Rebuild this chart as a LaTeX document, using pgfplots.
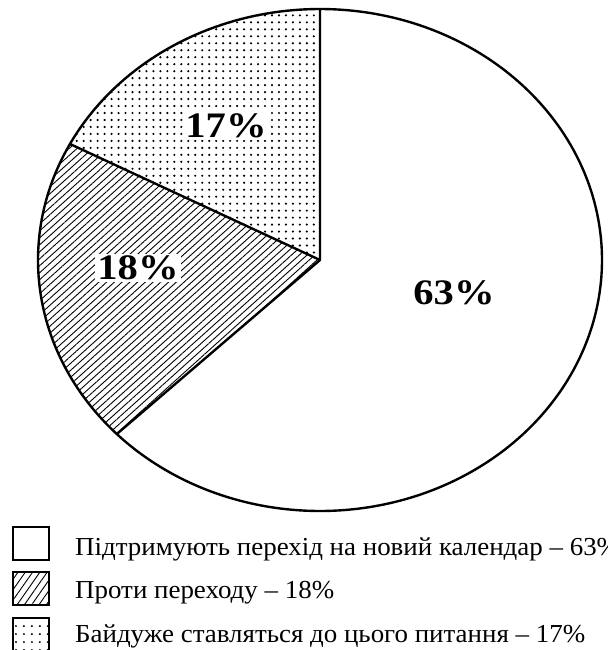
\documentclass[border=0pt]{standalone}
\usepackage{fontspec}
\setmainfont{Liberation Serif}
\usepackage{pgfplots}
\pgfplotsset{compat=1.18}
\usepackage{pgfplotstable}
\usetikzlibrary{patterns.meta}
% slices: share (%), start and end angle of the drawn sector (degrees)
\pgfplotstableread{
name share start end
support 63 -136.1 90
against 18 152.4 223.9
indiff  17 90 152.4
}\slices
\def\cx{320}\def\cy{260}\def\rx{282}\def\ry{251}
\newcommand\lbl[1]{\scalebox{1.13}[1]{\fontsize{36}{40}\selectfont\bfseries #1}}
\newcommand\leg[1]{\scalebox{1.04}[1]{\fontsize{26}{30}\selectfont #1}}
\begin{document}
\begin{tikzpicture}
\useasboundingbox (0,0) rectangle (608bp,650bp);
\clip (0,0) rectangle (608bp,650bp);
\begin{axis}[
  at={(0,0)}, anchor=south west,
  scale only axis, width=608bp, height=650bp,
  xmin=0, xmax=608, ymin=0, ymax=650, y dir=reverse,
  axis lines=none, clip=false,
]
\addplot[draw=none, pattern={Lines[angle=42,distance=5.2pt,line width=0.9pt]}, samples=120, domain=152.4:223.9]
  ({\cx+\rx*cos(x)},{\cy-\ry*sin(x)}) -- (axis cs:\cx,\cy) -- cycle;
\addplot[draw=none, pattern={Dots[distance=7pt,radius=1.2pt]}, samples=120, domain=90:152.4]
  ({\cx+\rx*cos(x)},{\cy-\ry*sin(x)}) -- (axis cs:\cx,\cy) -- cycle;
\addplot[draw=black, line width=2.4pt, fill=white, samples=240, domain=-136.1:90, line join=round]
  ({\cx+\rx*cos(x)},{\cy-\ry*sin(x)}) -- (axis cs:\cx,\cy) -- cycle;
\addplot[draw=black, line width=2.4pt, samples=120, domain=90:223.9, line join=round]
  ({\cx+\rx*cos(x)},{\cy-\ry*sin(x)});
\addplot[draw=black, line width=2.4pt] coordinates {(70,144) (320,260)};

\node[fill=white, inner sep=2pt] at (axis cs:454,293) {\lbl{63\%}};
\node[fill=white, inner sep=2pt] at (axis cs:138,268) {\lbl{18\%}};
\node[fill=white, inner sep=2pt] at (axis cs:226,126) {\lbl{17\%}};

% legend
\draw[line width=2pt, fill=white] (axis cs:13,527) rectangle (axis cs:49,560);
\draw[line width=2pt, pattern={Lines[angle=55,distance=6pt,line width=0.9pt]}] (axis cs:13,572) rectangle (axis cs:49,605);
\draw[line width=2pt, pattern={Dots[distance=8pt,radius=1.1pt]}] (axis cs:13,618) rectangle (axis cs:49,651);
\node[anchor=base west, inner sep=0pt] at (axis cs:75,555) {\leg{Підтримують перехід на новий календар – 63\%}};
\node[anchor=base west, inner sep=0pt] at (axis cs:75,598.5) {\leg{Проти переходу – 18\%}};
\node[anchor=base west, inner sep=0pt] at (axis cs:75,642) {\leg{Байдуже ставляться до цього питання – 17\%}};
\end{axis}
\end{tikzpicture}
\end{document}
